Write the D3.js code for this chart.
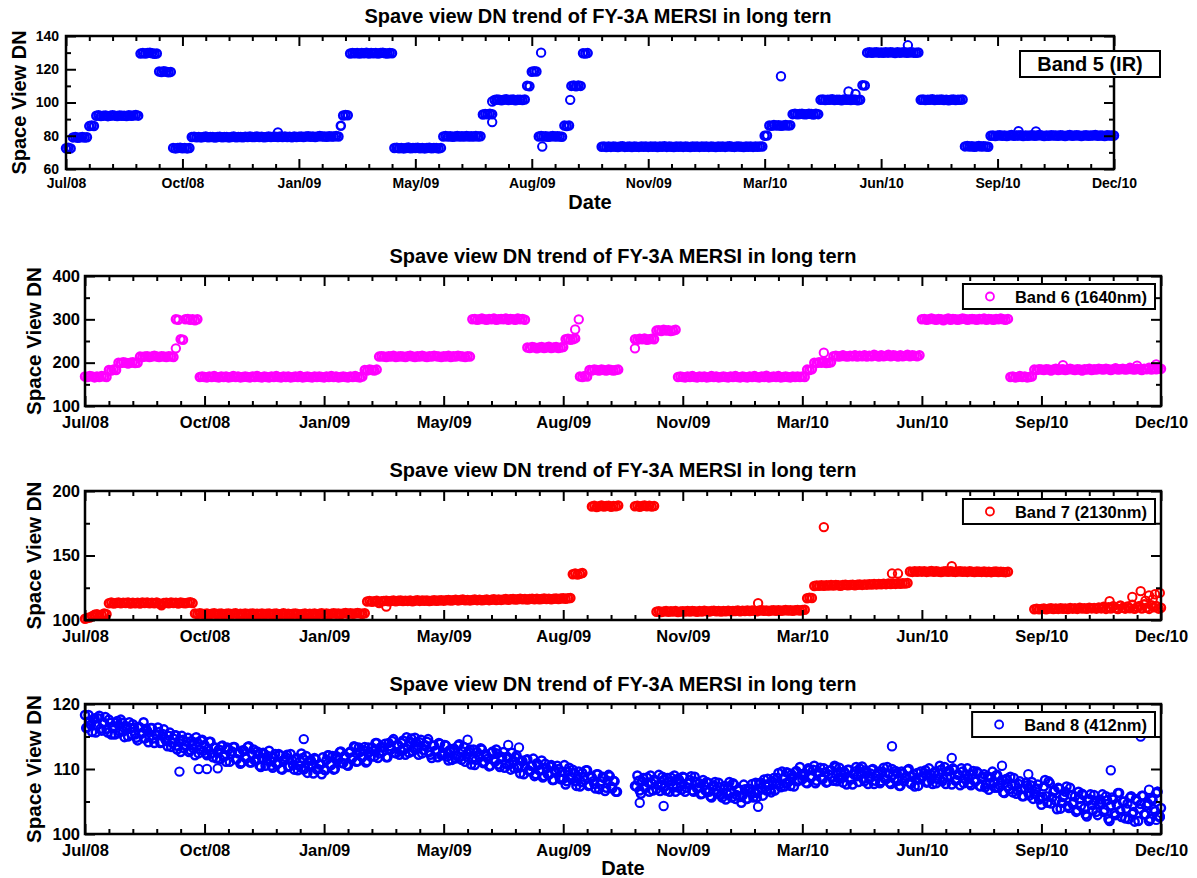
<!DOCTYPE html>
<html lang="en">
<head>
<meta charset="UTF-8">
<title>Spave view DN trend of FY-3A MERSI</title>
<script src="https://cdn.jsdelivr.net/npm/d3@7/dist/d3.min.js"></script>
<style>
  body { margin: 0; background: #fff; }
  svg text { font-family: "Liberation Sans", Arial, sans-serif; font-weight: bold; fill: #000; }
</style>
</head>
<body>
<svg id="chart" width="1197" height="878"></svg>
<script>
// one value every 2 days, starting 10 Jul 2008 (axis runs 900 days)
var startDate = new Date(Date.UTC(2008, 6, 10));
var spanDays = 900;
var stepDays = 2;
var xMajorDays = [0, 100, 200, 300, 400, 500, 600, 700, 800, 900];
var xMinorDays = d3.range(20, 900, 20).filter(function(d){ return d % 100 != 0; });

// Band 5 (IR)
var band5 = [
  72.5,72.8,72.4,79,79.2,78.8,79,79.3,78.9,79.1,85.8,86.1,85.9,92,92.3,91.9,92.1,92.2,91.8,92,92.4,92.1,91.9,92.2,92,
  92.1,91.9,92.3,92,92.2,92.5,92.1,129.4,129.8,129.5,129.7,129.9,129.6,129.3,129.5,118.6,118.3,118.8,118.5,118.2,118.4,72.7,72.4,72.6,72.8,
  72.5,72.7,72.4,72.6,79.2,79.4,79.1,79.3,79,79.2,79.5,79.1,79.3,79.2,78.9,79.2,79.4,79.1,79.3,79.2,79,79.3,79.5,79.1,79.2,
  79.3,79.1,79.4,79.2,79.5,79.2,79.3,79.6,79.2,79.4,79.1,79.3,79.5,79.2,79.4,79.4,79.3,79.5,79.2,79.6,79.3,79.4,79.1,79.5,79.3,
  79.4,79.6,79.3,79.5,79.7,79.4,79.6,79.3,79.5,79.8,79.5,79.6,79.4,79.7,79.5,79.6,79.8,79.5,86,92.2,92.5,92.3,129.5,129.8,129.6,
  129.7,129.5,129.8,129.6,129.9,129.5,129.7,129.6,129.8,129.4,129.7,129.9,129.6,129.5,129.8,129.6,72.6,72.8,72.5,72.7,72.4,72.6,72.9,72.5,72.7,
  72.6,72.8,72.5,72.7,72.4,72.6,72.8,72.5,72.7,72.6,72.4,72.7,79.6,79.8,79.5,79.7,79.4,79.6,79.9,79.5,79.7,79.6,79.8,79.5,79.7,
  79.6,79.8,79.5,79.7,92.8,93.1,92.9,93.2,93,101.5,101.8,101.6,101.4,101.7,101.9,101.5,101.6,101.8,101.4,101.7,101.6,101.5,101.8,110.1,109.8,
  118.5,118.8,118.6,79.6,79.8,79.5,79.7,79.4,79.6,79.8,79.5,79.7,79.6,79.4,86.1,85.9,86.2,110,110.3,109.8,110.2,110,129.6,129.4,129.7,
  null,null,null,null,null,73.4,73.6,73.2,73.5,73.3,73.6,73.4,73.2,73.5,73.7,73.3,73.4,73.6,73.2,73.5,73.4,73.3,73.6,73.4,73.5,
  73.3,73.5,73.4,73.6,73.2,73.5,73.4,73.7,73.3,73.5,73.4,73.2,73.6,73.4,73.5,73.3,73.6,73.4,73.2,73.5,73.4,73.6,73.3,73.5,73.4,
  73.5,73.3,73.6,73.4,73.2,73.5,73.4,73.6,73.3,73.5,73.7,73.4,73.3,73.5,73.6,73.4,73.2,73.5,73.4,73.6,73.3,73.5,73.4,73.6,73.5,
  80,80.2,86.2,86,86.4,86.1,86.3,86,86.2,86.5,86.1,86.3,93,93.2,92.9,93.1,93.3,92.9,93,93.2,93.1,92.8,93.2,93,101.6,
  101.8,101.5,101.7,101.6,101.9,101.5,101.7,101.6,101.4,101.8,101.6,101.7,101.5,101.8,101.6,101.4,101.7,110.4,110.2,130,130.2,129.9,130.1,130.3,130,
  130.1,129.9,130.2,130,130.3,130.1,129.8,130.2,130,130.1,130.3,129.9,130.1,130.2,130,129.9,130.1,101.6,101.8,101.5,101.7,101.6,101.9,101.5,101.7,
  101.6,101.8,101.5,101.7,101.4,101.6,101.8,101.5,101.7,101.6,101.8,73.6,73.8,73.5,73.7,73.4,73.6,73.8,73.5,73.7,73.6,73.4,80,80.2,79.9,
  80.1,80.3,80,80.2,79.9,80.1,80.4,80,80.2,80.1,80.3,79.9,80.2,80,80.1,80.3,80,80.2,80.4,80.1,79.9,80.2,80,80.3,80.1,
  80.2,80,80.3,80.1,79.9,80.2,80.4,80,80.1,80.3,80.2,79.9,80.1,80.3,80,80.2,80.1,80.4,80,80.2,80.1,79.9,80.3,80.1,80.2,
  80.2
];
// single points off the main sequence: [day, value]
var band5Extra = [[182,82],[366,100.6],[366,88.2],[408,130],[409,73.5],[433,101.6],[614,115.8],[672,106.6],[678,105.2],[723,134.4],[818,82.8],[833,82.6]];

// Band 6 (1640nm)
var band6 = [
  168,167,169,168,166,168,167,169,168,167,183,182,184,183,200,199,201,200,198,200,201,199,200,214,213,
  214,215,213,214,216,214,213,215,214,213,215,214,213,300,299,254,253,300,301,299,300,298,300,167,168,
  167,166,168,167,169,167,166,168,167,168,166,167,169,167,168,166,167,168,167,166,168,167,169,167,166,
  168,167,166,168,167,169,167,166,168,167,168,166,167,168,167,169,166,167,168,167,166,168,167,168,167,
  166,168,167,169,167,168,166,167,168,167,166,168,167,169,167,166,168,183,182,184,183,182,184,214,215,
  214,213,215,214,216,213,214,215,214,213,215,216,214,213,215,214,216,214,213,215,214,216,215,214,213,
  215,214,216,213,215,214,216,215,214,213,215,214,300,301,299,300,302,300,299,301,300,302,299,300,301,
  300,302,299,301,300,299,302,300,301,299,235,234,236,235,233,235,236,234,235,237,234,235,236,234,235,
  236,254,255,253,254,256,null,168,167,169,168,183,182,184,183,182,184,183,182,184,183,182,183,184,null,
  null,null,null,null,null,254,253,255,254,256,253,254,255,254,274,275,273,276,274,275,273,274,276,167,168,
  167,166,168,167,169,167,166,168,167,168,166,167,169,167,168,166,167,168,167,166,168,167,169,167,166,
  168,167,166,168,167,169,167,166,168,167,170,166,167,168,167,169,166,167,168,167,166,168,167,168,167,
  168,167,184,183,185,200,199,201,200,202,199,200,201,215,216,214,215,217,215,214,216,215,217,214,216,
  215,217,214,216,215,218,216,214,217,215,216,218,215,217,216,214,217,215,216,218,215,217,216,215,217,
  300,301,299,300,302,300,299,301,300,298,300,302,299,301,300,299,300,302,301,299,300,301,300,299,301,
  300,302,299,301,300,299,301,300,302,300,299,301,167,168,166,167,169,167,168,166,167,168,184,183,185,
  184,183,185,184,182,184,186,183,184,185,183,184,186,184,183,185,184,182,185,184,186,183,185,184,186,
  185,184,186,185,183,185,187,184,185,186,184,185,188,185,184,186,185,183,186,185,188,184,186,185,187,
  186
];
var band6Extra = [[76,233],[410,276.6],[413,300],[460,233],[618,223],[818,194],[880,193],[896,196]];

// Band 7 (2130nm)
var band7 = [
  101,101.5,102,103,104,104.5,103.5,104,105,104.5,113,113.5,112.8,113.2,113.6,112.9,113.3,113.1,113.5,112.7,113.4,113,113.3,112.8,113.5,
  113.2,113.6,112.9,113.3,113,113.5,112.7,111.5,113.2,113.4,113,113.6,113.1,113.3,112.8,113.5,113.2,113,113.4,113.7,113.1,105,104.6,105.2,104.8,
  104.7,105,104.5,104.9,105.2,104.6,104.8,105.1,104.4,104.9,105,104.6,104.8,105.2,104.5,104.9,104.7,105,104.6,104.8,105.1,104.5,104.9,104.7,105,
  104.6,104.9,105.1,104.5,104.8,105,104.4,104.7,105.2,104.6,104.9,104.5,104.8,105.1,104.6,104.3,104.7,105,104.5,104.8,104.6,105,104.4,104.9,105.2,
  104.7,105,104.6,104.9,105.3,104.8,105.1,104.6,105,105.4,104.9,105.2,104.8,105.1,105.5,105,104.8,105.2,114.4,114.8,114.2,114.6,114.9,113.2,114.5,
  114.7,115,114.5,114.8,115.1,114.6,114.9,115.2,114.7,115,114.8,115.1,114.6,115,115.3,114.8,115.1,114.9,115.2,114.7,115,115.3,114.9,115.1,115.4,
  115,115.3,115.6,115.1,115.4,115.7,115.2,115.5,115.8,115.3,115.6,115.2,115.5,115.8,115.4,115.7,115.3,115.6,115.9,115.4,115.7,116,115.5,115.8,115.6,
  115.9,116.2,115.7,116,116.3,115.8,116.1,116.4,116,116.3,115.9,116.2,116.5,116.1,116.4,116,116.3,116.6,116.2,116.5,116.1,116.4,116.7,116.3,116.6,
  116.8,116.4,116.9,117.1,135.5,136,135.2,135.8,136.4,null,null,null,188,188.5,187.6,188.2,188.8,187.9,188.3,188.6,187.8,188.4,188.1,188.7,null,
  null,null,null,null,null,188.2,188.6,187.8,188.3,188.7,188.1,188.5,187.9,188.4,106.4,106.8,106.2,106.6,106.9,106.3,106.7,106.5,106.9,106.2,106.6,
  106.8,106.5,106.9,106.6,107,106.7,106.4,106.9,106.6,107.1,106.8,106.5,106.9,107.2,106.7,106.9,106.6,107,106.8,107.2,106.7,107,106.9,107.3,106.8,
  107.1,106.9,107.3,107,107.4,107.1,106.8,107.3,107.5,107.1,107.4,107,107.3,107.6,107.2,107.5,107.1,107.4,107.7,107.3,107.6,107.2,107.5,107.8,107.4,
  107.7,107.9,116.8,117.2,117,126.4,126.8,126.5,126.9,126.6,127,126.7,127.1,126.8,127.2,126.9,126.6,127.1,127.3,126.9,127.2,127.4,127,127.3,127.5,
  127.2,127.6,127.4,127.8,127.5,127.9,127.6,128,127.7,128.1,127.8,128.2,127.9,128.3,128,128.4,128.1,128.5,128.3,128.7,137.6,137.3,137.8,137.4,137.7,
  137.5,137.8,137.3,137.6,137.9,137.4,137.7,137.5,137.2,137.6,137.8,137.4,137.7,137.5,137.3,137.6,137.8,137.4,137.6,137.3,137.7,137.5,137.2,137.6,137.4,
  137.3,137.6,137.2,137.5,137.1,137.4,137.6,137.2,137.5,137.3,137.1,137.4,null,null,null,null,null,null,null,null,null,null,108.4,108.7,108.3,
  108.6,108.9,108.4,108.8,109.1,108.5,108.9,108.6,109.2,108.7,109,108.5,109.3,108.8,109.1,108.6,109.4,108.9,109.2,108.7,109.5,109,109.3,108.8,109.6,
  109,110.2,108.6,109.8,108.9,110.6,109.2,108.5,111.2,109.4,108.8,110.4,109.1,111.8,108.7,109.9,110.8,108.9,112.3,109.5,108.6,111.4,109.8,110.9,108.8,
  109.5
];
var band7Extra = [[252,110.5],[563,113],[618,172],[675,136],[680,136],[725,141.8],[857,114.6],[876,117.8],[883,122.4],[887,115],[890,119],[893,116],[895,120],[899,121]];

// Band 8 (412nm), even days
var band8 = [
  118.3,116.4,117.3,115.7,117.8,116.7,118.2,115.9,117.1,116.1,117.6,115.3,116.6,117.1,115.5,117.6,115.8,116.6,115.0,116.3,116.9,115.3,114.4,116.4,115.6,
  114.7,115.9,114.9,116.3,114.0,115.2,115.7,114.1,116.1,114.3,115.1,113.4,114.7,115.2,113.5,112.6,114.5,113.7,114.8,112.9,113.7,112.1,114.1,113.0,114.5,
  113.7,112.1,114.2,112.4,113.3,111.6,113.0,113.5,111.9,111.1,113.0,112.3,113.4,111.5,112.4,110.8,112.9,111.8,113.4,111.0,112.2,111.3,112.7,110.5,111.7,
  112.3,111.3,112.8,110.5,111.7,110.8,112.3,110.0,111.3,111.8,110.3,112.3,110.6,111.5,109.8,111.2,111.7,110.2,109.4,111.3,110.6,111.7,109.9,110.7,109.2,
  109.9,111.4,112.1,110.6,109.9,112.0,111.4,112.7,110.9,111.9,110.5,112.7,111.8,113.4,111.2,112.6,111.8,113.4,111.2,112.6,113.3,111.9,114.0,112.4,113.4,
  113.3,111.8,114.0,113.0,114.6,112.4,113.7,112.8,114.4,112.2,113.5,114.2,112.7,114.8,113.2,114.1,112.4,113.7,114.2,112.6,111.7,113.6,112.9,114.0,112.1,
  112.1,113.6,111.3,112.6,113.1,111.6,113.6,111.9,112.7,111.1,112.4,113.0,111.5,110.6,112.6,111.8,113.0,111.1,112.0,110.4,112.5,111.4,113.0,110.7,111.9,
  112.6,110.8,111.6,109.9,111.3,111.8,110.2,109.3,111.2,110.4,111.5,109.6,110.5,108.9,110.9,109.8,111.3,108.9,110.1,109.1,110.6,108.3,109.5,110.0,108.4,
  108.5,107.6,109.6,108.8,109.9,108.1,108.9,107.3,109.4,108.3,109.8,107.5,108.7,107.7,109.2,106.9,108.1,108.6,107.1,109.1,107.3,108.2,106.5,null,null,
  null,null,null,null,null,107.4,109.0,106.7,108.1,107.2,108.7,106.5,107.8,108.4,106.9,109.1,107.4,108.3,106.7,108.1,108.7,107.3,106.5,108.5,107.8,
  108.8,106.5,107.8,108.3,106.7,108.8,107.0,107.8,106.2,107.5,108.0,106.5,105.6,107.5,106.8,107.9,106.0,106.9,105.3,107.3,106.3,107.8,105.4,106.7,105.7,
  105.9,106.9,105.4,106.9,107.7,106.3,105.6,107.7,107.1,108.4,106.7,107.7,106.4,108.6,107.7,109.4,107.2,108.6,107.8,109.4,107.4,108.8,109.5,108.1,110.3,
  108.4,109.3,107.8,109.9,108.9,110.5,108.2,109.5,108.6,110.1,107.9,109.2,109.8,108.2,110.3,108.6,109.5,107.9,109.3,109.9,108.4,107.6,109.6,108.9,110.1,
  110.4,108.1,109.4,108.5,109.9,107.7,109.0,109.6,108.1,110.2,108.4,109.3,107.7,109.1,109.7,108.2,107.4,109.3,108.6,109.8,107.9,108.8,107.3,109.4,108.4,
  108.7,109.4,107.9,110.1,108.4,109.4,107.8,109.3,109.9,108.5,107.7,109.7,108.9,110.1,108.2,109.1,107.5,109.6,108.5,110.1,107.8,109.1,108.1,109.6,107.4,
  108.7,109.2,107.6,106.8,108.7,107.9,109.0,107.1,107.9,106.4,108.4,107.3,108.8,106.4,107.6,106.7,108.1,105.8,107.0,107.5,105.9,108.0,106.2,107.0,105.3,
  104.5,107.3,105.8,108.1,104.7,106.5,105.1,107.1,103.9,105.7,106.5,104.3,107.1,104.6,105.8,103.6,105.4,106.2,104.0,102.7,105.4,104.5,106.0,103.4,104.6,
  104.8,103.4,105.8,102.3,104.4,105.3,102.9,106.3,103.6,105.0,102.4,104.7,105.6,103.1,101.9,105.1,103.9,105.9,103.0,104.4,102.0,105.4,103.8,106.3,102.7,
  104.0
];
// Band 8, odd days (1, 3, 5 ...)
var band8Odd = [
  116.3,118.3,116.8,117.6,115.6,117.8,116.2,117.0,118.0,115.6,117.1,116.3,115.3,117.4,115.8,117.1,114.9,116.4,117.2,115.3,116.4,114.8,116.5,115.4,117.2,
  116.2,114.1,116.3,114.7,115.4,116.4,114.0,115.4,114.6,113.5,115.6,114.0,115.2,113.0,114.4,115.1,113.2,114.2,112.6,114.3,113.1,114.9,112.4,114.4,112.8,
  112.4,113.1,114.2,111.8,113.3,112.5,111.5,113.6,112.0,113.3,111.1,112.7,113.4,111.5,112.6,111.0,112.8,111.6,113.5,111.0,113.0,111.5,112.3,110.3,112.5,
  110.5,112.0,111.2,110.2,112.3,110.8,112.1,109.9,111.5,112.2,110.4,111.4,109.9,111.7,110.5,112.4,109.9,112.0,110.5,111.3,109.3,111.5,110.0,110.7,111.8,
  109.8,112.1,110.7,112.0,110.0,111.7,112.6,110.9,112.0,110.6,112.5,111.5,113.5,111.1,113.3,111.9,112.9,111.0,113.3,111.9,112.8,114.0,111.7,113.3,112.7,
  113.9,111.8,113.5,114.3,112.5,113.7,112.2,114.0,113.0,114.9,112.5,114.7,113.2,114.1,112.2,114.5,112.9,113.6,114.6,112.2,113.6,112.8,111.8,113.9,112.3,
  113.7,111.9,112.9,111.4,113.1,112.0,113.8,111.4,113.4,111.9,112.7,110.7,113.0,111.4,112.2,113.2,110.9,112.3,111.6,110.5,112.7,111.1,112.4,110.3,111.8,
  110.2,111.9,110.7,112.5,110.1,112.1,110.5,111.3,109.2,111.4,109.8,110.5,111.6,109.2,110.6,109.8,108.7,110.8,109.2,110.4,108.3,109.8,110.5,108.6,109.6,
  110.6,108.1,110.2,108.6,109.4,107.4,109.6,108.0,108.8,109.8,107.4,108.9,108.1,107.0,109.2,107.6,108.8,106.6,108.2,108.9,107.0,108.1,106.5,null,null,
  null,null,null,null,null,107.3,108.2,106.2,108.6,107.1,107.9,109.0,106.7,108.2,107.5,106.6,108.8,107.3,108.6,106.5,108.1,109.0,107.2,108.3,106.8,
  108.7,107.1,107.9,108.9,106.5,108.0,107.2,106.1,108.3,106.7,107.9,105.8,107.3,108.0,106.2,107.2,105.6,107.4,106.2,108.0,105.6,107.6,106.0,106.9,104.8,
  107.6,105.4,107.0,106.4,105.6,107.9,106.5,107.9,105.9,107.6,108.5,106.8,108.1,106.7,108.6,107.6,109.6,107.3,109.5,108.1,109.2,107.3,109.7,108.3,109.2,
  108.9,107.9,110.1,108.6,109.9,107.8,109.4,110.2,108.4,109.5,108.0,109.8,108.7,110.5,108.1,110.2,108.7,109.6,107.6,109.9,108.4,109.2,110.3,108.0,109.5,
  108.5,109.8,107.7,109.3,110.0,108.2,109.3,107.8,109.6,108.5,110.3,107.9,110.0,108.5,109.4,107.4,109.6,108.1,108.9,110.0,107.7,109.2,108.4,107.4,109.6,
  108.9,109.8,108.0,109.2,107.7,109.6,108.5,110.5,108.1,110.3,108.8,109.7,107.6,109.9,108.3,109.1,110.1,107.8,109.2,108.5,107.5,109.7,108.1,109.4,107.3,
  108.8,107.2,108.9,107.8,109.6,107.1,109.1,107.5,108.3,106.3,108.5,106.9,107.6,108.6,106.2,107.7,106.9,105.8,107.9,106.3,107.5,105.4,106.9,107.6,105.7,
  105.7,108.3,104.8,107.8,105.6,106.7,103.8,107.0,104.8,105.9,107.3,104.0,106.0,104.9,103.4,106.5,104.3,106.0,103.0,105.1,106.1,103.6,105.1,102.9,105.3,
  106.1,103.7,105.2,102.0,105.6,103.2,104.5,106.3,102.6,105.0,103.9,102.3,105.8,103.4,105.4,102.0,104.6,105.9,103.0,104.7,102.3,105.2,103.5,106.5,102.7
];
var band8Extra = [[79,109.6],[95,110],[102,110],[111,110.1],[183,114.6],[320,114.5],[354,113.7],[363,113.3],[464,104.8],[484,104.3],[563,104.2],[675,113.5],[725,111.7],[767,110.5],[789,109.2],[858,109.8],[883,115],[890,106.8],[897,106.5],[896,102.2],[899,102.6]];

var titleText = "Spave view DN trend of FY-3A MERSI in long tern";

var panels = [
  {series: [[band5, 0]], extra: band5Extra, color: "#0000ff", legend: "Band 5 (IR)",
   yDomain: [60, 140], yMajor: [60, 80, 100, 120, 140], yMinor: [70, 90, 110, 130],
   left: 66, right: 1114, top: 36, bottom: 169, tickFont: 14, labelFont: 20,
   titleX: 598, titleY: 23, yLabelX: 19, xPad: 9, yPad: 7, dateY: 209, boxLegend: true},
  {series: [[band6, 0]], extra: band6Extra, color: "#ff00ff", legend: "Band 6 (1640nm)",
   yDomain: [100, 400], yMajor: [100, 200, 300, 400], yMinor: [150, 250, 350],
   left: 85, right: 1161, top: 276, bottom: 406, tickFont: 16.5, labelFont: 20.5,
   titleX: 623, titleY: 263, yLabelX: 34, xPad: 10, yPad: 5},
  {series: [[band7, 0]], extra: band7Extra, color: "#ff0000", legend: "Band 7 (2130nm)",
   yDomain: [100, 200], yMajor: [100, 150, 200], yMinor: [125, 175],
   left: 85, right: 1161, top: 491, bottom: 620, tickFont: 16.5, labelFont: 20.5,
   titleX: 623, titleY: 477, yLabelX: 34, xPad: 10, yPad: 5},
  {series: [[band8, 0], [band8Odd, 1]], extra: band8Extra, color: "#0000ff", legend: "Band 8 (412nm)",
   yDomain: [100, 120], yMajor: [100, 110, 120], yMinor: [105, 115],
   left: 85, right: 1161, top: 704, bottom: 834, tickFont: 16.5, labelFont: 20.5,
   titleX: 623, titleY: 691, yLabelX: 34, xPad: 10, yPad: 5, dateY: 875}
];

var svg = d3.select("#chart");
var dayToDate = function(d){ return d3.utcDay.offset(startDate, d); };
var fmt = d3.utcFormat("%b/%y");

panels.forEach(function(p){
  var g = svg.append("g");
  var x = d3.scaleUtc().domain([startDate, dayToDate(spanDays)]).range([p.left, p.right]);
  var y = d3.scaleLinear().domain(p.yDomain).range([p.bottom, p.top]);

  var pts = [];
  p.series.forEach(function(s){
    s[0].forEach(function(v, i){
      if (v !== null) pts.push({date: dayToDate(s[1] + i * stepDays), v: v, main: true});
    });
  });
  p.extra.forEach(function(e){ pts.push({date: dayToDate(e[0]), v: e[1], main: false}); });

  g.append("g").selectAll("circle")
    .data(pts)
    .join("circle")
    .attr("cx", function(d){ return x(d.date); })
    .attr("cy", function(d){ return y(d.v); })
    .attr("r", function(d){ return d.main ? 4 : 4.2; })
    .attr("fill", "none")
    .attr("stroke", p.color)
    .attr("stroke-width", function(d){ return d.main ? 2.5 : 2; });

  var majors = xMajorDays.map(dayToDate);
  var minors = xMinorDays.map(dayToDate);

  function addAxis(axis, tr, withText){
    var a = g.append("g").attr("transform", tr).call(axis);
    a.select(".domain").remove();
    a.selectAll(".tick line").attr("stroke", "#000").attr("stroke-width", 2);
    if (withText) a.selectAll(".tick text").style("font-size", p.tickFont + "px").attr("fill", "#000");
    return a;
  }
  var H = "translate(0," + p.bottom + ")", T = "translate(0," + p.top + ")";
  var L = "translate(" + p.left + ",0)", R = "translate(" + p.right + ",0)";

  addAxis(d3.axisBottom(x).tickValues(majors).tickSizeInner(-10).tickSizeOuter(0).tickPadding(p.xPad).tickFormat(fmt), H, true);
  addAxis(d3.axisBottom(x).tickValues(minors).tickSizeInner(-5).tickSizeOuter(0).tickFormat(""), H);
  addAxis(d3.axisTop(x).tickValues(majors).tickSizeInner(-10).tickSizeOuter(0).tickFormat(""), T);
  addAxis(d3.axisTop(x).tickValues(minors).tickSizeInner(-5).tickSizeOuter(0).tickFormat(""), T);
  addAxis(d3.axisLeft(y).tickValues(p.yMajor).tickSizeInner(-10).tickSizeOuter(0).tickPadding(p.yPad).tickFormat(d3.format("d")), L, true);
  addAxis(d3.axisLeft(y).tickValues(p.yMinor).tickSizeInner(-5).tickSizeOuter(0).tickFormat(""), L);
  addAxis(d3.axisRight(y).tickValues(p.yMajor).tickSizeInner(-10).tickSizeOuter(0).tickFormat(""), R);
  addAxis(d3.axisRight(y).tickValues(p.yMinor).tickSizeInner(-5).tickSizeOuter(0).tickFormat(""), R);

  g.append("rect")
    .attr("x", p.left).attr("y", p.top)
    .attr("width", p.right - p.left).attr("height", p.bottom - p.top)
    .attr("fill", "none").attr("stroke", "#000").attr("stroke-width", 2.5);

  g.append("text")
    .attr("x", p.titleX).attr("y", p.titleY)
    .attr("text-anchor", "middle")
    .style("font-size", "20px")
    .text(titleText);

  g.append("text")
    .attr("transform", "translate(" + p.yLabelX + "," + ((p.top + p.bottom) / 2) + ") rotate(-90)")
    .attr("text-anchor", "middle")
    .attr("dy", "0.35em")
    .style("font-size", p.labelFont + "px")
    .text("Space View DN");

  if (p.dateY) {
    g.append("text")
      .attr("x", (p.left + p.right) / 2).attr("y", p.dateY)
      .attr("text-anchor", "middle")
      .style("font-size", "20px")
      .text("Date");
  }

  // legend
  if (p.boxLegend) {
    g.append("rect").attr("x", 1020).attr("y", 51).attr("width", 140).attr("height", 26)
      .attr("fill", "#fff").attr("stroke", "#000").attr("stroke-width", 2);
    g.append("text").attr("x", 1090).attr("y", 71).attr("text-anchor", "middle")
      .style("font-size", "20px").text(p.legend);
  } else {
    var lg = g.append("g");
    var top = p.top + 8;
    var box = lg.append("rect").attr("y", top).attr("height", 25)
      .attr("fill", "#fff").attr("stroke", "#000").attr("stroke-width", 2);
    var t = lg.append("text").attr("x", 1147).attr("y", top + 18.5).attr("text-anchor", "end")
      .style("font-size", "16.5px").text(p.legend);
    var w = t.node().getComputedTextLength();
    var mx = 1147 - w - 25;
    lg.append("circle").attr("cx", mx).attr("cy", top + 12.5).attr("r", 4)
      .attr("fill", "none").attr("stroke", p.color).attr("stroke-width", 1.8);
    box.attr("x", mx - 27).attr("width", 1155 - (mx - 27));
  }
});
</script>
</body>
</html>
